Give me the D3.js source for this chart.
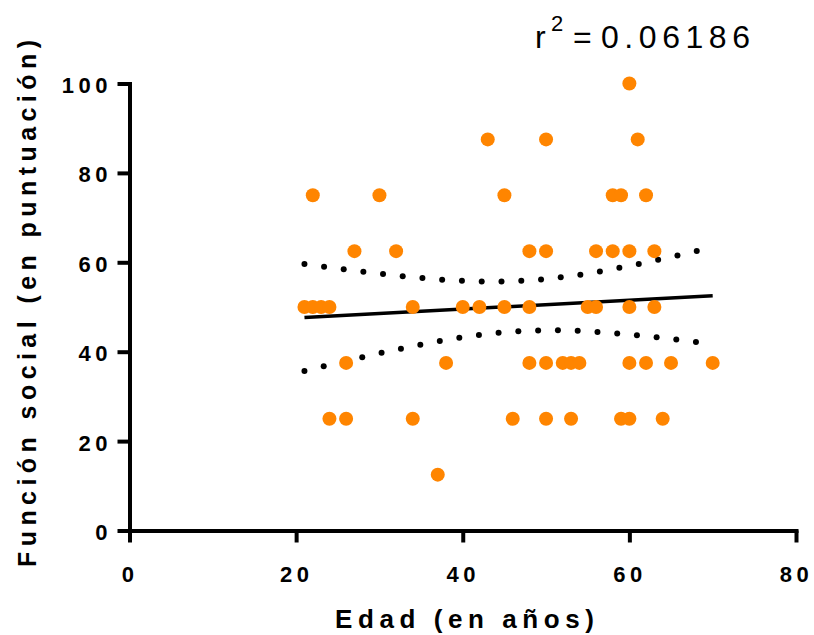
<!DOCTYPE html>
<html>
<head>
<meta charset="utf-8">
<script src="https://cdn.jsdelivr.net/npm/d3@7"></script>
<style>
  body { margin: 0; background: #fff; }
  svg { display: block; font-family: "Liberation Sans", Arial, sans-serif; }
</style>
</head>
<body>
<div id="chart"></div>
<script>
// edad (x) and funcion social (y), one entry per participant
var edad = [
  60,
  43, 50, 61,
  22, 30, 45, 58, 59, 62,
  27, 32, 48, 50, 56, 58, 60, 63,
  21, 22, 23, 24, 34, 40, 42, 45, 48, 55, 56, 60, 63,
  26, 38, 48, 50, 52, 53, 54, 60, 62, 65, 70,
  24, 26, 34, 46, 50, 53, 59, 60, 64,
  37
];
var puntuacion = [
  100,
  87.5, 87.5, 87.5,
  75, 75, 75, 75, 75, 75,
  62.5, 62.5, 62.5, 62.5, 62.5, 62.5, 62.5, 62.5,
  50, 50, 50, 50, 50, 50, 50, 50, 50, 50, 50, 50, 50,
  37.5, 37.5, 37.5, 37.5, 37.5, 37.5, 37.5, 37.5, 37.5, 37.5, 37.5,
  25, 25, 25, 25, 25, 25, 25, 25, 25,
  12.5
];
var xTicks = [0, 20, 40, 60, 80];
var yTicks = [0, 20, 40, 60, 80, 100];
var r2Label = "0.06186";

var width = 814, height = 635;
var svg = d3.select("#chart").append("svg")
  .attr("width", width).attr("height", height);

var x = d3.scaleLinear().domain([0, 80]).range([129.5, 796]);
var y = d3.scaleLinear().domain([0, 100]).range([530.5, 83.5]);

// linear fit + 95% confidence band
var n = edad.length,
  mx = d3.mean(edad), my = d3.mean(puntuacion),
  sxx = d3.sum(edad, function(d){ return (d - mx) * (d - mx) }),
  sxy = d3.sum(edad, function(d, i){ return (d - mx) * (puntuacion[i] - my) }),
  slope = sxy / sxx, icpt = my - slope * mx,
  sse = d3.sum(edad, function(d, i){ var e = puntuacion[i] - (icpt + slope * d); return e * e }),
  s = Math.sqrt(sse / (n - 2)), t = 2.0086;

var xmin = d3.min(edad), xmax = d3.max(edad);
var grid = d3.range(0, 61).map(function(i){ return xmin + (xmax - xmin) * i / 60 });
function half(v){ return t * s * Math.sqrt(1 / n + (v - mx) * (v - mx) / sxx) }

var line = d3.line().x(function(d){ return x(d[0]) }).y(function(d){ return y(d[1]) });

svg.append("path")
  .attr("d", line([[xmin, icpt + slope * xmin], [xmax, icpt + slope * xmax]]))
  .attr("stroke", "#000").attr("stroke-width", 3.5).attr("fill", "none");

// dotted confidence bands: dots placed evenly along each band curve
[1, -1].forEach(function(sign){
  var guide = svg.append("path")
    .attr("d", line(grid.map(function(v){ return [v, icpt + slope * v + sign * half(v)] })))
    .attr("fill", "none").attr("stroke", "none");
  var node = guide.node(), len = node.getTotalLength();
  var steps = d3.range(0, len - 8, 19.8);
  svg.append("g").selectAll("circle")
    .data(steps)
    .enter().append("circle")
    .attr("cx", function(d){ return node.getPointAtLength(d).x })
    .attr("cy", function(d){ return node.getPointAtLength(d).y })
    .attr("r", 3)
    .attr("fill", "#000");
});

// points on top of the fit
svg.append("g").selectAll("circle")
  .data(edad)
  .enter().append("circle")
  .attr("cx", function(d){ return x(d) })
  .attr("cy", function(d, i){ return y(puntuacion[i]) })
  .attr("r", 7)
  .attr("fill", "#ff8500");

// axes
var xAxis = svg.append("g")
  .attr("transform", "translate(0," + y(0) + ")")
  .call(d3.axisBottom(x).tickValues(xTicks).tickSize(12).tickSizeOuter(0).tickPadding(26));
var yAxis = svg.append("g")
  .attr("transform", "translate(" + x(0) + ",0)")
  .call(d3.axisLeft(y).tickValues(yTicks).tickSize(12).tickSizeOuter(0).tickPadding(7));

[xAxis, yAxis].forEach(function(g){
  g.select(".domain").attr("stroke-width", 4).attr("stroke-linecap", "square");
  g.selectAll(".tick line").attr("stroke-width", 4);
  g.selectAll(".tick text")
    .attr("fill", "#000")
    .style("font-size", "22px").style("font-weight", "bold")
    .style("letter-spacing", "4.5px")
    .style("font-family", "'Liberation Sans', Arial, sans-serif");
});
xAxis.selectAll(".tick text").attr("dy", null).attr("y", 51);
yAxis.selectAll(".tick text").attr("dy", null).attr("y", 9).attr("x", -17.5);

// titles
svg.append("text")
  .attr("x", 335).attr("y", 628)
  .attr("textLength", 259).attr("lengthAdjust", "spacing")
  .style("font-size", "26px").style("font-weight", "bold")
  .text("Edad (en años)");

svg.append("text")
  .attr("transform", "translate(36,567) rotate(-90)")
  .attr("textLength", 527).attr("lengthAdjust", "spacing")
  .style("font-size", "25px").style("font-weight", "bold")
  .text("Función social (en puntuación)");

var r2 = svg.append("g").style("font-size", "32px");
r2.append("text").attr("x", 535).attr("y", 48).text("r");
r2.append("text").attr("x", 551).attr("y", 31).style("font-size", "22px").text("2");
r2.append("text").attr("x", 573).attr("y", 48).text("=");
r2.append("text").attr("x", 601).attr("y", 48)
  .attr("textLength", 149).attr("lengthAdjust", "spacing")
  .text(r2Label);
</script>
</body>
</html>
